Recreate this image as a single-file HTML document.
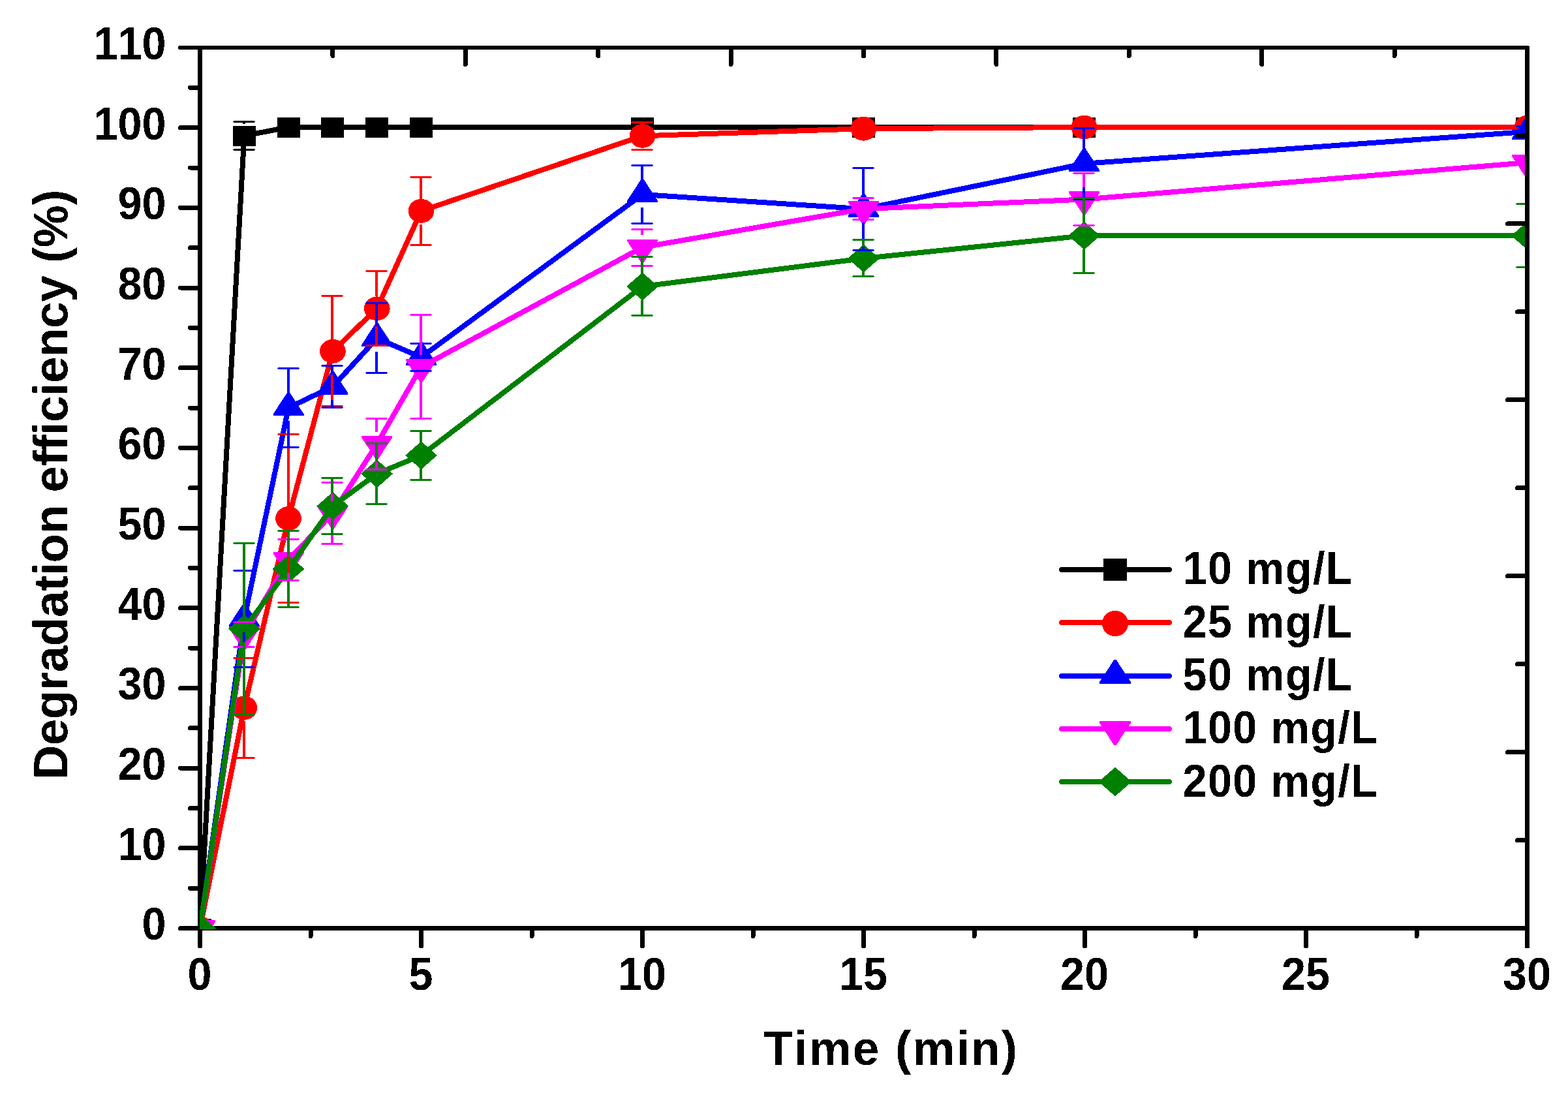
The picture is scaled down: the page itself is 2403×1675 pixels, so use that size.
<!DOCTYPE html>
<html lang="en"><head><meta charset="utf-8"><title>Degradation efficiency vs. time</title>
<style>
html,body{margin:0;padding:0;background:#fff;}
body{width:2403px;height:1675px;overflow:hidden;}
svg{display:block;}
text{font-family:"Liberation Sans","DejaVu Sans",sans-serif;font-weight:bold;fill:#000;font-variant-ligatures:none;font-kerning:none;}
.tick{font-size:66.5px;}
.title{font-size:73px;}
.leg{font-size:66.5px;}
</style></head><body>
<svg width="2403" height="1675" viewBox="0 0 2403 1675">
<defs><clipPath id="plot"><rect x="306" y="70" width="2038" height="1354"/></clipPath>
<filter id="hard" x="0" y="0" width="2403" height="1675" filterUnits="userSpaceOnUse" color-interpolation-filters="sRGB"><feComponentTransfer><feFuncA type="discrete" tableValues="0 1"/></feComponentTransfer></filter></defs>
<rect x="0" y="0" width="2403" height="1675" fill="#fff"/>
<g id="axes-left-bottom" fill="#000" shape-rendering="crispEdges">
<rect x="303" y="70" width="7" height="1356"/>
<rect x="303" y="1419" width="2041" height="7"/>
</g>
<g id="ticks-left" stroke="#000" stroke-width="7" stroke-linecap="round" shape-rendering="crispEdges">
<line x1="276.5" y1="1422.5" x2="305" y2="1422.5"/>
<line x1="291.5" y1="1361.2" x2="305" y2="1361.2"/>
<line x1="276.5" y1="1299.8" x2="305" y2="1299.8"/>
<line x1="291.5" y1="1238.5" x2="305" y2="1238.5"/>
<line x1="276.5" y1="1177.1" x2="305" y2="1177.1"/>
<line x1="291.5" y1="1115.8" x2="305" y2="1115.8"/>
<line x1="276.5" y1="1054.5" x2="305" y2="1054.5"/>
<line x1="291.5" y1="993.1" x2="305" y2="993.1"/>
<line x1="276.5" y1="931.8" x2="305" y2="931.8"/>
<line x1="291.5" y1="870.4" x2="305" y2="870.4"/>
<line x1="276.5" y1="809.1" x2="305" y2="809.1"/>
<line x1="291.5" y1="747.8" x2="305" y2="747.8"/>
<line x1="276.5" y1="686.4" x2="305" y2="686.4"/>
<line x1="291.5" y1="625.1" x2="305" y2="625.1"/>
<line x1="276.5" y1="563.7" x2="305" y2="563.7"/>
<line x1="291.5" y1="502.4" x2="305" y2="502.4"/>
<line x1="276.5" y1="441" x2="305" y2="441"/>
<line x1="291.5" y1="379.7" x2="305" y2="379.7"/>
<line x1="276.5" y1="318.4" x2="305" y2="318.4"/>
<line x1="291.5" y1="257" x2="305" y2="257"/>
<line x1="276.5" y1="195.7" x2="305" y2="195.7"/>
<line x1="291.5" y1="134.3" x2="305" y2="134.3"/>
<line x1="276" y1="73" x2="305" y2="73" stroke-width="6"/>
</g>
<g id="ticks-bottom" stroke="#000" stroke-width="7" stroke-linecap="round" shape-rendering="crispEdges">
<line x1="306.5" y1="1424" x2="306.5" y2="1449.5"/>
<line x1="476" y1="1424" x2="476" y2="1434.5"/>
<line x1="645.5" y1="1424" x2="645.5" y2="1449.5"/>
<line x1="815" y1="1424" x2="815" y2="1434.5"/>
<line x1="984.5" y1="1424" x2="984.5" y2="1449.5"/>
<line x1="1154" y1="1424" x2="1154" y2="1434.5"/>
<line x1="1323.5" y1="1424" x2="1323.5" y2="1449.5"/>
<line x1="1493" y1="1424" x2="1493" y2="1434.5"/>
<line x1="1662.5" y1="1424" x2="1662.5" y2="1449.5"/>
<line x1="1832" y1="1424" x2="1832" y2="1434.5"/>
<line x1="2001.5" y1="1424" x2="2001.5" y2="1449.5"/>
<line x1="2171" y1="1424" x2="2171" y2="1434.5"/>
<line x1="2340.5" y1="1424" x2="2340.5" y2="1449.5"/>
</g>
<g id="series" clip-path="url(#plot)" shape-rendering="crispEdges">
<g id="series-k">
<polyline points="306.5,1422.5 374.3,208 442.1,195 509.9,195 577.7,195 645.5,195 984.5,195 1323.5,195 1661.6,195 2340.5,195" fill="none" stroke="#000000" stroke-width="8" stroke-linejoin="round"/>
<rect x="289" y="1408" width="35" height="31" fill="#000000"/>
<rect x="357" y="193" width="35" height="31" fill="#000000"/>
<rect x="425" y="180" width="35" height="31" fill="#000000"/>
<rect x="492" y="180" width="35" height="31" fill="#000000"/>
<rect x="560" y="180" width="35" height="31" fill="#000000"/>
<rect x="628" y="180" width="35" height="31" fill="#000000"/>
<rect x="967" y="180" width="35" height="31" fill="#000000"/>
<rect x="1306" y="180" width="35" height="31" fill="#000000"/>
<rect x="1644" y="180" width="35" height="31" fill="#000000"/>
<rect x="2323" y="180" width="35" height="31" fill="#000000"/>
</g>
<g id="series-r">
<polyline points="306.5,1422.5 374.3,1084.8 442.1,794.5 509.9,538.3 577.7,472.8 645.5,323.3 984.5,208.3 1323.5,197.2 1661.6,195 2340.5,195" fill="none" stroke="#ff0000" stroke-width="8" stroke-linejoin="round"/>
<ellipse cx="306.5" cy="1422.5" rx="19.9" ry="18.4" fill="#ff0000"/>
<ellipse cx="374.3" cy="1084.8" rx="19.9" ry="18.4" fill="#ff0000"/>
<ellipse cx="442.1" cy="794.5" rx="19.9" ry="18.4" fill="#ff0000"/>
<ellipse cx="509.9" cy="538.3" rx="19.9" ry="18.4" fill="#ff0000"/>
<ellipse cx="577.7" cy="472.8" rx="19.9" ry="18.4" fill="#ff0000"/>
<ellipse cx="645.5" cy="323.3" rx="19.9" ry="18.4" fill="#ff0000"/>
<ellipse cx="984.5" cy="208.3" rx="19.9" ry="18.4" fill="#ff0000"/>
<ellipse cx="1323.5" cy="197.2" rx="19.9" ry="18.4" fill="#ff0000"/>
<ellipse cx="1661.6" cy="195" rx="19.9" ry="18.4" fill="#ff0000"/>
<ellipse cx="2340.5" cy="195" rx="19.9" ry="18.4" fill="#ff0000"/>
</g>
<g id="series-b">
<polyline points="306.5,1422.5 374.3,948.5 442.1,624.8 509.9,592.5 577.7,518.4 645.5,547.5 984.5,298 1323.5,320.3 1661.6,250.8 2340.5,201.8" fill="none" stroke="#0000ff" stroke-width="8" stroke-linejoin="round"/>
<polygon points="283,1434.9 283,1432.3 304.9,1398.7 308.1,1398.7 330,1432.3 330,1434.9" fill="#0000ff"/>
<polygon points="350.8,960.9 350.8,958.3 372.7,924.7 375.9,924.7 397.8,958.3 397.8,960.9" fill="#0000ff"/>
<polygon points="418.6,637.2 418.6,634.6 440.5,601 443.7,601 465.6,634.6 465.6,637.2" fill="#0000ff"/>
<polygon points="486.4,604.9 486.4,602.3 508.3,568.7 511.5,568.7 533.4,602.3 533.4,604.9" fill="#0000ff"/>
<polygon points="554.2,530.8 554.2,528.2 576.1,494.6 579.3,494.6 601.2,528.2 601.2,530.8" fill="#0000ff"/>
<polygon points="622,559.9 622,557.3 643.9,523.7 647.1,523.7 669,557.3 669,559.9" fill="#0000ff"/>
<polygon points="961,310.4 961,307.8 982.9,274.2 986.1,274.2 1008,307.8 1008,310.4" fill="#0000ff"/>
<polygon points="1300,332.7 1300,330.1 1321.9,296.5 1325.1,296.5 1347,330.1 1347,332.7" fill="#0000ff"/>
<polygon points="1638.1,263.2 1638.1,260.6 1660,227 1663.2,227 1685.1,260.6 1685.1,263.2" fill="#0000ff"/>
<polygon points="2317,214.2 2317,211.6 2338.9,178 2342.1,178 2364,211.6 2364,214.2" fill="#0000ff"/>
</g>
<g id="series-m">
<polyline points="306.5,1422.5 374.3,972.4 442.1,858 509.9,786.8 577.7,680.3 645.5,562.3 984.5,379 1323.5,320.1 1661.6,305.5 2340.5,249.1" fill="none" stroke="#ff00ff" stroke-width="8" stroke-linejoin="round"/>
<polygon points="283,1410.1 283,1412.7 304.9,1446.3 308.1,1446.3 330,1412.7 330,1410.1" fill="#ff00ff"/>
<polygon points="350.8,960 350.8,962.6 372.7,996.2 375.9,996.2 397.8,962.6 397.8,960" fill="#ff00ff"/>
<polygon points="418.6,845.6 418.6,848.2 440.5,881.8 443.7,881.8 465.6,848.2 465.6,845.6" fill="#ff00ff"/>
<polygon points="486.4,774.4 486.4,777 508.3,810.6 511.5,810.6 533.4,777 533.4,774.4" fill="#ff00ff"/>
<polygon points="554.2,667.9 554.2,670.5 576.1,704.1 579.3,704.1 601.2,670.5 601.2,667.9" fill="#ff00ff"/>
<polygon points="622,549.9 622,552.5 643.9,586.1 647.1,586.1 669,552.5 669,549.9" fill="#ff00ff"/>
<polygon points="961,366.6 961,369.2 982.9,402.8 986.1,402.8 1008,369.2 1008,366.6" fill="#ff00ff"/>
<polygon points="1300,307.7 1300,310.3 1321.9,343.9 1325.1,343.9 1347,310.3 1347,307.7" fill="#ff00ff"/>
<polygon points="1638.1,293.1 1638.1,295.7 1660,329.3 1663.2,329.3 1685.1,295.7 1685.1,293.1" fill="#ff00ff"/>
<polygon points="2317,236.7 2317,239.3 2338.9,272.9 2342.1,272.9 2364,239.3 2364,236.7" fill="#ff00ff"/>
</g>
<g id="series-g">
<polyline points="306.5,1422.5 374.3,963.7 442.1,871.9 509.9,775.5 577.7,726 645.5,697.9 984.5,439 1323.5,396 1661.6,361.2 2340.5,361.2" fill="none" stroke="#008000" stroke-width="8" stroke-linejoin="round"/>
<polygon points="282,1422.5 306.5,1401 331,1422.5 306.5,1444" fill="#008000"/>
<polygon points="349.8,963.7 374.3,942.2 398.8,963.7 374.3,985.2" fill="#008000"/>
<polygon points="417.6,871.9 442.1,850.4 466.6,871.9 442.1,893.4" fill="#008000"/>
<polygon points="485.4,775.5 509.9,754 534.4,775.5 509.9,797" fill="#008000"/>
<polygon points="553.2,726 577.7,704.5 602.2,726 577.7,747.5" fill="#008000"/>
<polygon points="621,697.9 645.5,676.4 670,697.9 645.5,719.4" fill="#008000"/>
<polygon points="960,439 984.5,417.5 1009,439 984.5,460.5" fill="#008000"/>
<polygon points="1299,396 1323.5,374.5 1348,396 1323.5,417.5" fill="#008000"/>
<polygon points="1637.1,361.2 1661.6,339.7 1686.1,361.2 1661.6,382.7" fill="#008000"/>
<polygon points="2316,361.2 2340.5,339.7 2365,361.2 2340.5,382.7" fill="#008000"/>
</g>
</g>
<g id="errorbars" clip-path="url(#plot)" shape-rendering="crispEdges">
<g id="err-k" fill="#000000">
<rect x="372" y="186" width="4" height="4"/>
<path d="M358.5 185 h31 l1.5 1.5 l-1.5 1.5 h-31 l-1.5 -1.5 z"/>
<rect x="372" y="228" width="4" height="2"/>
<path d="M358.5 228 h31 l1.5 1.5 l-1.5 1.5 h-31 l-1.5 -1.5 z"/>
</g>
<g id="err-r" fill="#ff0000">
<rect x="372" y="1008" width="4" height="58"/>
<path d="M358.5 1007 h31 l1.5 1.5 l-1.5 1.5 h-31 l-1.5 -1.5 z"/>
<rect x="372" y="1105" width="4" height="56"/>
<path d="M358.5 1160 h31 l1.5 1.5 l-1.5 1.5 h-31 l-1.5 -1.5 z"/>
<rect x="440" y="666" width="4" height="110"/>
<path d="M426.5 664 h31 l1.5 1.5 l-1.5 1.5 h-31 l-1.5 -1.5 z"/>
<rect x="440" y="815" width="4" height="108"/>
<path d="M426.5 922 h31 l1.5 1.5 l-1.5 1.5 h-31 l-1.5 -1.5 z"/>
<rect x="507" y="454" width="4" height="66"/>
<path d="M493.5 452 h31 l1.5 1.5 l-1.5 1.5 h-31 l-1.5 -1.5 z"/>
<rect x="507" y="559" width="4" height="64"/>
<path d="M493.5 621 h31 l1.5 1.5 l-1.5 1.5 h-31 l-1.5 -1.5 z"/>
<rect x="575" y="416" width="4" height="38"/>
<path d="M561.5 414 h31 l1.5 1.5 l-1.5 1.5 h-31 l-1.5 -1.5 z"/>
<rect x="575" y="493" width="4" height="37"/>
<path d="M561.5 528 h31 l1.5 1.5 l-1.5 1.5 h-31 l-1.5 -1.5 z"/>
<rect x="643" y="271" width="4" height="34"/>
<path d="M629.5 270 h31 l1.5 1.5 l-1.5 1.5 h-31 l-1.5 -1.5 z"/>
<rect x="643" y="344" width="4" height="31"/>
<path d="M629.5 374 h31 l1.5 1.5 l-1.5 1.5 h-31 l-1.5 -1.5 z"/>
<rect x="982" y="187" width="4" height="3"/>
<path d="M968.5 186 h31 l1.5 1.5 l-1.5 1.5 h-31 l-1.5 -1.5 z"/>
<rect x="982" y="229" width="4" height="0"/>
<path d="M968.5 228 h31 l1.5 1.5 l-1.5 1.5 h-31 l-1.5 -1.5 z"/>
</g>
<g id="err-b" fill="#0000ff">
<rect x="372" y="875" width="4" height="55"/>
<path d="M358.5 873 h31 l1.5 1.5 l-1.5 1.5 h-31 l-1.5 -1.5 z"/>
<rect x="372" y="969" width="4" height="53"/>
<path d="M358.5 1021 h31 l1.5 1.5 l-1.5 1.5 h-31 l-1.5 -1.5 z"/>
<rect x="440" y="564" width="4" height="42"/>
<path d="M426.5 563 h31 l1.5 1.5 l-1.5 1.5 h-31 l-1.5 -1.5 z"/>
<rect x="440" y="645" width="4" height="40"/>
<path d="M426.5 684 h31 l1.5 1.5 l-1.5 1.5 h-31 l-1.5 -1.5 z"/>
<rect x="507" y="560" width="4" height="14"/>
<path d="M493.5 559 h31 l1.5 1.5 l-1.5 1.5 h-31 l-1.5 -1.5 z"/>
<rect x="507" y="613" width="4" height="11"/>
<path d="M493.5 623 h31 l1.5 1.5 l-1.5 1.5 h-31 l-1.5 -1.5 z"/>
<rect x="575" y="465" width="4" height="35"/>
<path d="M561.5 463 h31 l1.5 1.5 l-1.5 1.5 h-31 l-1.5 -1.5 z"/>
<rect x="575" y="539" width="4" height="33"/>
<path d="M561.5 570 h31 l1.5 1.5 l-1.5 1.5 h-31 l-1.5 -1.5 z"/>
<rect x="643" y="526" width="4" height="3"/>
<path d="M629.5 525 h31 l1.5 1.5 l-1.5 1.5 h-31 l-1.5 -1.5 z"/>
<rect x="643" y="568" width="4" height="1"/>
<path d="M629.5 567 h31 l1.5 1.5 l-1.5 1.5 h-31 l-1.5 -1.5 z"/>
<rect x="982" y="254" width="4" height="26"/>
<path d="M968.5 252 h31 l1.5 1.5 l-1.5 1.5 h-31 l-1.5 -1.5 z"/>
<rect x="982" y="318" width="4" height="24"/>
<path d="M968.5 341 h31 l1.5 1.5 l-1.5 1.5 h-31 l-1.5 -1.5 z"/>
<rect x="1321" y="258" width="4" height="44"/>
<path d="M1307.5 256 h31 l1.5 1.5 l-1.5 1.5 h-31 l-1.5 -1.5 z"/>
<rect x="1321" y="341" width="4" height="42"/>
<path d="M1307.5 382 h31 l1.5 1.5 l-1.5 1.5 h-31 l-1.5 -1.5 z"/>
<rect x="1659" y="196" width="4" height="36"/>
<path d="M1645.5 195 h31 l1.5 1.5 l-1.5 1.5 h-31 l-1.5 -1.5 z"/>
<rect x="1659" y="271" width="4" height="34"/>
<path d="M1645.5 304 h31 l1.5 1.5 l-1.5 1.5 h-31 l-1.5 -1.5 z"/>
<path d="M2324.5 192 h31 l1.5 1.5 l-1.5 1.5 h-31 l-1.5 -1.5 z"/>
<path d="M2324.5 209 h31 l1.5 1.5 l-1.5 1.5 h-31 l-1.5 -1.5 z"/>
</g>
<g id="err-m" fill="#ff00ff">
<rect x="372" y="953" width="4" height="1"/>
<path d="M358.5 952 h31 l1.5 1.5 l-1.5 1.5 h-31 l-1.5 -1.5 z"/>
<path d="M358.5 990 h31 l1.5 1.5 l-1.5 1.5 h-31 l-1.5 -1.5 z"/>
<rect x="440" y="826" width="4" height="14"/>
<path d="M426.5 825 h31 l1.5 1.5 l-1.5 1.5 h-31 l-1.5 -1.5 z"/>
<rect x="440" y="878" width="4" height="12"/>
<path d="M426.5 888 h31 l1.5 1.5 l-1.5 1.5 h-31 l-1.5 -1.5 z"/>
<rect x="507" y="740" width="4" height="28"/>
<path d="M493.5 738 h31 l1.5 1.5 l-1.5 1.5 h-31 l-1.5 -1.5 z"/>
<rect x="507" y="807" width="4" height="27"/>
<path d="M493.5 832 h31 l1.5 1.5 l-1.5 1.5 h-31 l-1.5 -1.5 z"/>
<rect x="575" y="642" width="4" height="20"/>
<path d="M561.5 640 h31 l1.5 1.5 l-1.5 1.5 h-31 l-1.5 -1.5 z"/>
<rect x="575" y="701" width="4" height="18"/>
<path d="M561.5 718 h31 l1.5 1.5 l-1.5 1.5 h-31 l-1.5 -1.5 z"/>
<rect x="643" y="483" width="4" height="61"/>
<path d="M629.5 481 h31 l1.5 1.5 l-1.5 1.5 h-31 l-1.5 -1.5 z"/>
<rect x="643" y="583" width="4" height="59"/>
<path d="M629.5 640 h31 l1.5 1.5 l-1.5 1.5 h-31 l-1.5 -1.5 z"/>
<rect x="982" y="351" width="4" height="9"/>
<path d="M968.5 350 h31 l1.5 1.5 l-1.5 1.5 h-31 l-1.5 -1.5 z"/>
<rect x="982" y="400" width="4" height="7"/>
<path d="M968.5 406 h31 l1.5 1.5 l-1.5 1.5 h-31 l-1.5 -1.5 z"/>
<path d="M1307.5 302 h31 l1.5 1.5 l-1.5 1.5 h-31 l-1.5 -1.5 z"/>
<path d="M1307.5 335 h31 l1.5 1.5 l-1.5 1.5 h-31 l-1.5 -1.5 z"/>
<rect x="1659" y="266" width="4" height="21"/>
<path d="M1645.5 264 h31 l1.5 1.5 l-1.5 1.5 h-31 l-1.5 -1.5 z"/>
<rect x="1659" y="326" width="4" height="19"/>
<path d="M1645.5 344 h31 l1.5 1.5 l-1.5 1.5 h-31 l-1.5 -1.5 z"/>
</g>
<g id="err-g" fill="#008000">
<rect x="372" y="832" width="4" height="113"/>
<path d="M358.5 831 h31 l1.5 1.5 l-1.5 1.5 h-31 l-1.5 -1.5 z"/>
<rect x="372" y="984" width="4" height="111"/>
<path d="M358.5 1094 h31 l1.5 1.5 l-1.5 1.5 h-31 l-1.5 -1.5 z"/>
<rect x="440" y="813" width="4" height="40"/>
<path d="M426.5 812 h31 l1.5 1.5 l-1.5 1.5 h-31 l-1.5 -1.5 z"/>
<rect x="440" y="892" width="4" height="39"/>
<path d="M426.5 929 h31 l1.5 1.5 l-1.5 1.5 h-31 l-1.5 -1.5 z"/>
<rect x="507" y="732" width="4" height="25"/>
<path d="M493.5 731 h31 l1.5 1.5 l-1.5 1.5 h-31 l-1.5 -1.5 z"/>
<rect x="507" y="796" width="4" height="22"/>
<path d="M493.5 817 h31 l1.5 1.5 l-1.5 1.5 h-31 l-1.5 -1.5 z"/>
<rect x="575" y="680" width="4" height="28"/>
<path d="M561.5 678 h31 l1.5 1.5 l-1.5 1.5 h-31 l-1.5 -1.5 z"/>
<rect x="575" y="746" width="4" height="26"/>
<path d="M561.5 771 h31 l1.5 1.5 l-1.5 1.5 h-31 l-1.5 -1.5 z"/>
<rect x="643" y="661" width="4" height="18"/>
<path d="M629.5 659 h31 l1.5 1.5 l-1.5 1.5 h-31 l-1.5 -1.5 z"/>
<rect x="643" y="718" width="4" height="17"/>
<path d="M629.5 734 h31 l1.5 1.5 l-1.5 1.5 h-31 l-1.5 -1.5 z"/>
<rect x="982" y="394" width="4" height="26"/>
<path d="M968.5 392 h31 l1.5 1.5 l-1.5 1.5 h-31 l-1.5 -1.5 z"/>
<rect x="982" y="460" width="4" height="24"/>
<path d="M968.5 482 h31 l1.5 1.5 l-1.5 1.5 h-31 l-1.5 -1.5 z"/>
<rect x="1321" y="368" width="4" height="10"/>
<path d="M1307.5 366 h31 l1.5 1.5 l-1.5 1.5 h-31 l-1.5 -1.5 z"/>
<rect x="1321" y="416" width="4" height="8"/>
<path d="M1307.5 422 h31 l1.5 1.5 l-1.5 1.5 h-31 l-1.5 -1.5 z"/>
<rect x="1659" y="304" width="4" height="39"/>
<path d="M1645.5 302 h31 l1.5 1.5 l-1.5 1.5 h-31 l-1.5 -1.5 z"/>
<rect x="1659" y="382" width="4" height="36"/>
<path d="M1645.5 417 h31 l1.5 1.5 l-1.5 1.5 h-31 l-1.5 -1.5 z"/>
<rect x="2338" y="312" width="4" height="31"/>
<path d="M2324.5 311 h31 l1.5 1.5 l-1.5 1.5 h-31 l-1.5 -1.5 z"/>
<rect x="2338" y="382" width="4" height="28"/>
<path d="M2324.5 408 h31 l1.5 1.5 l-1.5 1.5 h-31 l-1.5 -1.5 z"/>
</g>
</g>
<g id="axes-top-right" fill="#000" shape-rendering="crispEdges">
<rect x="276" y="70" width="2067" height="6"/>
<rect x="2337" y="71" width="7" height="1382"/>
</g>
<g id="ticks-top" stroke="#000" stroke-width="7" stroke-linecap="round" shape-rendering="crispEdges">
<line x1="509.9" y1="74" x2="509.9" y2="85.5"/>
<line x1="713.3" y1="74" x2="713.3" y2="98.5"/>
<line x1="916.7" y1="74" x2="916.7" y2="85.5"/>
<line x1="1120.1" y1="74" x2="1120.1" y2="98.5"/>
<line x1="1323.5" y1="74" x2="1323.5" y2="85.5"/>
<line x1="1526.9" y1="74" x2="1526.9" y2="98.5"/>
<line x1="1730.3" y1="74" x2="1730.3" y2="85.5"/>
<line x1="1933.7" y1="74" x2="1933.7" y2="98.5"/>
<line x1="2137.1" y1="74" x2="2137.1" y2="85.5"/>
</g>
<g id="ticks-right" stroke="#000" stroke-width="7" stroke-linecap="round" shape-rendering="crispEdges">
<line x1="2325.5" y1="1287.5" x2="2339" y2="1287.5"/>
<line x1="2310.5" y1="1152.6" x2="2339" y2="1152.6"/>
<line x1="2325.5" y1="1017.6" x2="2339" y2="1017.6"/>
<line x1="2310.5" y1="882.7" x2="2339" y2="882.7"/>
<line x1="2325.5" y1="747.8" x2="2339" y2="747.8"/>
<line x1="2310.5" y1="612.8" x2="2339" y2="612.8"/>
<line x1="2325.5" y1="477.9" x2="2339" y2="477.9"/>
<line x1="2310.5" y1="342.9" x2="2339" y2="342.9"/>
<line x1="2325.5" y1="208" x2="2339" y2="208"/>
</g>
<g id="labels" filter="url(#hard)">
<g id="ylabels" class="tick" text-anchor="end">
<text transform="translate(254.5,1440.3) scale(1,1.05)">0</text>
<text transform="translate(254.5,1317.6) scale(1,1.05)">10</text>
<text transform="translate(254.5,1194.9) scale(1,1.05)">20</text>
<text transform="translate(254.5,1072.3) scale(1,1.05)">30</text>
<text transform="translate(254.5,949.6) scale(1,1.05)">40</text>
<text transform="translate(254.5,826.9) scale(1,1.05)">50</text>
<text transform="translate(254.5,704.2) scale(1,1.05)">60</text>
<text transform="translate(254.5,581.5) scale(1,1.05)">70</text>
<text transform="translate(254.5,458.8) scale(1,1.05)">80</text>
<text transform="translate(254.5,336.2) scale(1,1.05)">90</text>
<text transform="translate(254.5,213.5) scale(1,1.05)">100</text>
<text transform="translate(254.5,90.8) scale(1,1.05)">110</text>
</g>
<g id="xlabels" class="tick" text-anchor="middle">
<text transform="translate(305.9,1516.7) scale(1,1.05)">0</text>
<text transform="translate(644.9,1516.7) scale(1,1.05)">5</text>
<text transform="translate(983.9,1516.7) scale(1,1.05)">10</text>
<text transform="translate(1322.9,1516.7) scale(1,1.05)">15</text>
<text transform="translate(1661.9,1516.7) scale(1,1.05)">20</text>
<text transform="translate(2000.9,1516.7) scale(1,1.05)">25</text>
<text transform="translate(2339.9,1516.7) scale(1,1.05)">30</text>
</g>
<text id="xtitle" class="title" transform="translate(1170.6,1632.2) scale(1,1.02)" style="letter-spacing:2.15px">Time (min)</text>
<text id="ytitle" class="title" transform="translate(103.5,742.7) rotate(-90) scale(1,1.015)" text-anchor="middle" style="letter-spacing:-0.5px">Degradation efficiency (%)</text>
<g id="legend">
<g shape-rendering="crispEdges"><line x1="1627" y1="873" x2="1792" y2="873" stroke="#000000" stroke-width="8" stroke-linecap="round"/>
<rect x="1691" y="856" width="36" height="34" fill="#000000"/></g>
<text class="leg" transform="translate(1812.5,894.8) scale(1,1.045)" style="letter-spacing:1.45px">10 mg/L</text>
<g shape-rendering="crispEdges"><line x1="1627" y1="954" x2="1792" y2="954" stroke="#ff0000" stroke-width="8" stroke-linecap="round"/>
<ellipse cx="1709" cy="955.5" rx="20.1" ry="19.7" fill="#ff0000"/></g>
<text class="leg" transform="translate(1812.5,976.8) scale(1,1.045)" style="letter-spacing:1.45px">25 mg/L</text>
<g shape-rendering="crispEdges"><line x1="1627" y1="1036" x2="1792" y2="1036" stroke="#0000ff" stroke-width="8" stroke-linecap="round"/>
<polygon points="1684.8,1048.1 1684.8,1045.5 1707.4,1011 1710.6,1011 1733.2,1045.5 1733.2,1048.1" fill="#0000ff"/></g>
<text class="leg" transform="translate(1812.5,1058) scale(1,1.045)" style="letter-spacing:1.45px">50 mg/L</text>
<g shape-rendering="crispEdges"><line x1="1627" y1="1117" x2="1792" y2="1117" stroke="#ff00ff" stroke-width="8" stroke-linecap="round"/>
<polygon points="1684.8,1104.9 1684.8,1107.5 1707.4,1142 1710.6,1142 1733.2,1107.5 1733.2,1104.9" fill="#ff00ff"/></g>
<text class="leg" transform="translate(1812.5,1139.3) scale(1,1.045)" style="letter-spacing:1.45px">100 mg/L</text>
<g shape-rendering="crispEdges"><line x1="1627" y1="1198" x2="1792" y2="1198" stroke="#008000" stroke-width="8" stroke-linecap="round"/>
<polygon points="1683.5,1198 1709,1175.8 1734.5,1198 1709,1220.2" fill="#008000"/></g>
<text class="leg" transform="translate(1812.5,1220.6) scale(1,1.045)" style="letter-spacing:1.45px">200 mg/L</text>
</g>
</g>
</svg>
</body></html>
